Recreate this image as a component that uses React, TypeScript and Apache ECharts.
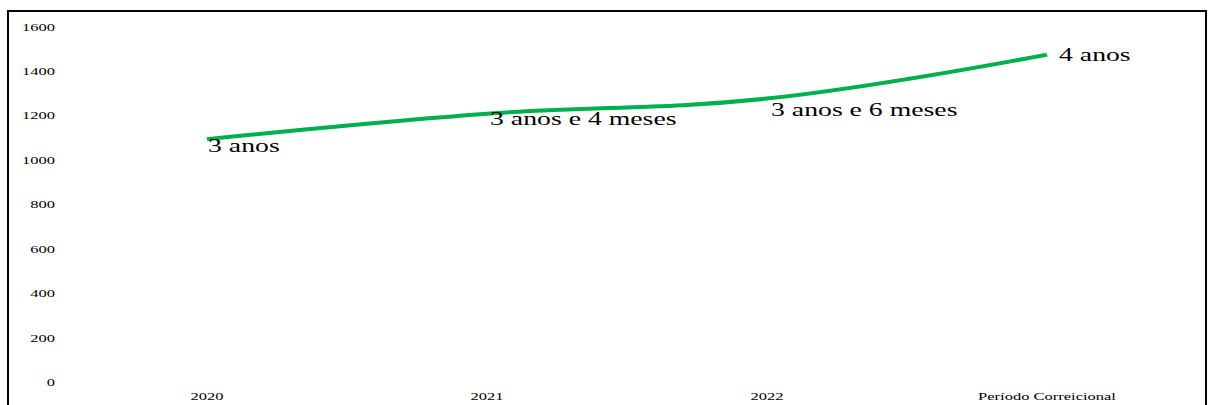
import React, { useEffect, useRef } from "react";
import * as echarts from "echarts";

const categories = ["2020", "2021", "2022", "Período Correicional"];
const values = [1095, 1210, 1278, 1476];
const pointLabels = ["3 anos", "3 anos e 4 meses", "3 anos e 6 meses", "4 anos"];
const labelOffsets = [
  [1, 7],
  [3, 5],
  [4, 11],
  [12, 0],
];

const SX = 1.5; // horizontal stretch of the reference picture
const W = 1209 / SX;
const H = 405;
const SERIF = "'Liberation Serif', 'Times New Roman', serif";

export default function App() {
  const ref = useRef<HTMLDivElement>(null);
  useEffect(() => {
    if (!ref.current) return;
    const chart = echarts.init(ref.current, null, { renderer: "svg" });
    const fx = 8 / SX;
    const rx = 1206 / SX;
    chart.setOption({
      animation: false,
      backgroundColor: "#ffffff",
      grid: { left: 44.7, right: W - 1187 / SX, top: 27, bottom: 22.5, containLabel: false },
      xAxis: {
        type: "category",
        data: categories,
        boundaryGap: true,
        axisLine: { show: false },
        axisTick: { show: false },
        axisLabel: { color: "#000", fontFamily: SERIF, fontSize: 11, margin: 8 },
        splitLine: { show: false },
      },
      yAxis: {
        type: "value",
        min: 0,
        max: 1600,
        interval: 200,
        axisLine: { show: false },
        axisTick: { show: false },
        splitLine: { show: false },
        axisLabel: {
          color: "#000",
          fontFamily: SERIF,
          fontSize: 11,
          margin: 8,
          formatter: (v: number) => String(v),
        },
      },
      graphic: [
        { type: "line", shape: { x1: fx, y1: 11, x2: fx, y2: 420 }, style: { stroke: "#000", lineWidth: 2 / SX } },
        { type: "line", shape: { x1: fx - 0.7, y1: 11, x2: rx + 0.7, y2: 11 }, style: { stroke: "#000", lineWidth: 2 } },
        { type: "line", shape: { x1: rx, y1: 11, x2: rx, y2: 420 }, style: { stroke: "#000", lineWidth: 2 / SX } },
      ],
      series: [
        {
          type: "line",
          data: values.map((v, i) => ({
            value: v,
            label: {
              show: true,
              formatter: pointLabels[i],
              position: "inside",
              align: "left",
              verticalAlign: "middle",
              offset: [labelOffsets[i][0] / SX, labelOffsets[i][1]],
              color: "#000",
              fontFamily: SERIF,
              fontSize: 18.5,
            },
          })),
          smooth: 0.4,
          showSymbol: true,
          symbol: "circle",
          symbolSize: 2,
          itemStyle: { color: "rgba(0,0,0,0)", borderWidth: 0 },
          lineStyle: { color: "#00b050", width: 4 },
        },
      ],
    });
    return () => chart.dispose();
  }, []);
  return (
    <div
      style={{
        position: "fixed",
        left: 0,
        top: 0,
        width: 1209,
        height: H,
        overflow: "hidden",
        background: "#fff",
      }}
    >
      <div
        ref={ref}
        style={{
          width: W,
          height: H,
          transform: `scaleX(${SX})`,
          transformOrigin: "0 0",
        }}
      />
    </div>
  );
}
